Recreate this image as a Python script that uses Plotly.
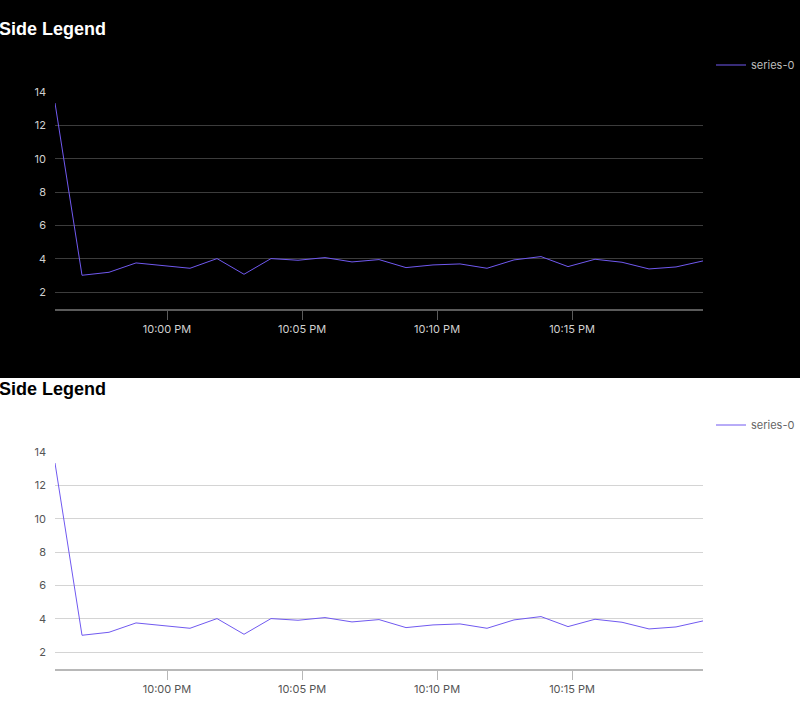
import pandas as pd
import plotly.graph_objects as go

# one reading per minute, starting just before 10 PM
start_time = "2024-01-01 21:55:51"
series_name = "series-0"
values = [13.34, 3.02, 3.20, 3.76, 3.60, 3.44, 4.02, 3.08, 4.02, 3.92,
          4.08, 3.82, 3.96, 3.48, 3.64, 3.70, 3.44, 3.94, 4.14, 3.54,
          3.98, 3.80, 3.40, 3.52, 3.88]
times = pd.date_range(start_time, periods=len(values), freq="1min")
y_ticks = [2, 4, 6, 8, 10, 12, 14]
x_ticks = pd.to_datetime(["2024-01-01 22:00", "2024-01-01 22:05",
                          "2024-01-01 22:10", "2024-01-01 22:15"])
x_tick_text = ["10:00 PM", "10:05 PM", "10:10 PM", "10:15 PM"]

W, H = 800, 719
LINE = "#7059f0"


def py(pix):
    # pixel row -> paper y
    return 1 - pix / H


themes = [
    # dark panel on top, light panel below
    dict(off=0, bg="black", title="white", tick="#d0d0d0", grid="#3c3c3c", axis="#5a5a5a",
         legend_font="#bdbdbd"),
    dict(off=360, bg="white", title="black", tick="#555555", grid="#d4d4d4", axis="#b8b8b8",
         legend_font="#666666"),
]

fig = go.Figure()
shapes = []
annotations = []
layout = {}
for i, th in enumerate(themes):
    n = "" if i == 0 else str(i + 1)
    legend_key = "legend" + n
    fig.add_trace(go.Scatter(x=times, y=values, mode="lines", name=series_name,
                             line=dict(color=LINE, width=1),
                             xaxis="x" + n, yaxis="y" + n, legend=legend_key))
    top, bottom = 92 + th["off"], 309 + th["off"]
    layout["xaxis" + n] = dict(
        domain=[55 / W, 703 / W], anchor="y" + n,
        range=[times[0], times[-1]],
        tickvals=x_ticks, ticktext=x_tick_text,
        ticks="outside", ticklen=9, tickcolor=th["axis"], tickwidth=1,
        showline=True, linecolor=th["axis"], linewidth=2,
        showgrid=False, zeroline=False,
        tickfont=dict(family="Inter", size=11, color=th["tick"]),
    )
    layout["yaxis" + n] = dict(
        domain=[py(bottom), py(top)], anchor="x" + n,
        range=[1, 14], tickvals=y_ticks,
        showgrid=True, gridcolor=th["grid"], gridwidth=1,
        showline=False, zeroline=False, ticks="", ticklabelstandoff=8,
        tickfont=dict(family="Inter", size=11, color=th["tick"]),
    )
    layout[legend_key] = dict(
        x=1, y=py(65 + th["off"]), xanchor="right", yanchor="middle",
        bgcolor="rgba(0,0,0,0)", font=dict(family="Inter", size=11, color=th["legend_font"]),
        itemwidth=30,
    )
    annotations.append(dict(
        text="<b>Side Legend</b>", x=-3 / W, y=py(29 + th["off"]), xref="paper", yref="paper",
        xanchor="left", yanchor="middle", showarrow=False,
        font=dict(family="Liberation Sans", size=18, color=th["title"]),
    ))

shapes.append(dict(type="rect", xref="paper", yref="paper", x0=0, x1=1, y0=py(378), y1=1,
                   fillcolor="black", line=dict(width=0), layer="below"))

fig.update_layout(
    width=W, height=H, margin=dict(l=0, r=0, t=0, b=0, autoexpand=False),
    paper_bgcolor="white", plot_bgcolor="rgba(0,0,0,0)",
    showlegend=True, shapes=shapes, annotations=annotations,
    **layout,
)
pin_page = ("document.documentElement.style.overflow='hidden';"
            "document.body.style.margin='0';document.body.style.overflow='hidden';"
            "var gd=document.getElementById('{plot_id}');"
            "gd.style.position='fixed';gd.style.top='0';gd.style.left='0';")
fig.write_html("out.html", config={"displayModeBar": False}, post_script=pin_page)
